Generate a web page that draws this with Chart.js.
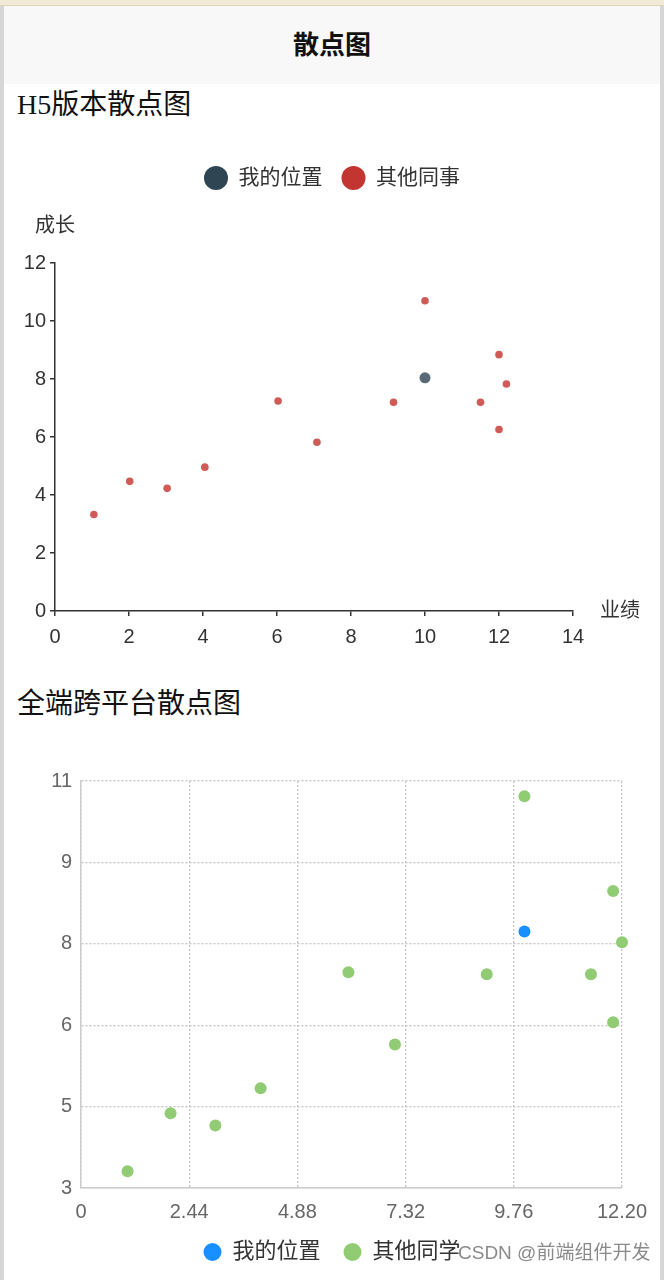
<!DOCTYPE html>
<html>
<meta charset="UTF-8">
<title>散点图</title>
<style type="text/css">
	html,
	body {
		margin: 0px;
		width: 664px;
		height: 1280px;
		background: #ffffff;
		overflow: hidden;
	}

	.page {
		position: relative;
		width: 664px;
		height: 1280px;
		font-family: "Liberation Serif", "Noto Sans CJK SC", serif;
	}

	.topline {
		position: absolute;
		left: 0;
		top: 0;
		width: 664px;
		height: 5px;
		background: #f1ead6;
		border-bottom: 1px solid #ddd3b6;
	}

	.side {
		position: absolute;
		top: 6px;
		width: 4px;
		height: 1274px;
		background: #d6d6d6;
	}

	.header {
		position: absolute;
		left: 4px;
		right: 4px;
		top: 6px;
		height: 78px;
		line-height: 80px;
		background: #f8f8f8;
		text-align: center;
		font-size: 26px;
		font-weight: bold;
		color: #111;
	}

	.sec {
		position: absolute;
		left: 17px;
		height: 36px;
		line-height: 36px;
		font-size: 28px;
		color: #111;
	}

	.box {
		position: absolute;
		left: 4px;
		width: 656px;
	}

	.mark {
		position: absolute;
		left: 458px;
		top: 1240px;
		font-family: "Liberation Sans", "Noto Sans CJK SC", sans-serif;
		font-size: 19px;
		line-height: 26px;
		color: #8a8a8a;
		text-shadow: 0 0 2px #fff, 0 0 2px #fff;
	}
</style>
<script src="https://cdn.jsdelivr.net/npm/chart.js"></script>

<body>
	<div class="page">
		<div class="topline"></div>
		<div class="side" style="left:0"></div>
		<div class="side" style="left:660px"></div>
		<div class="header">散点图</div>
		<div class="sec" style="top:87px">H5版本散点图</div>
		<div class="box" style="top:130px;height:530px"><canvas id="h5Chart"></canvas></div>
		<div class="sec" style="top:686px">全端跨平台散点图</div>
		<div class="box" style="top:740px;height:540px"><canvas id="allChart"></canvas></div>
		<div class="mark">CSDN @前端组件开发</div>
	</div>

	<script>
		// data (both charts show the same points)
		var meX = [10.0];
		var meY = [8.04];
		var othersX = [1.05, 2.02, 3.03, 4.05, 6.03, 7.08, 9.15, 10.0, 11.5, 12.0, 12.2, 12.0];
		var othersY = [3.33, 4.47, 4.23, 4.96, 7.24, 5.82, 7.20, 10.7, 7.20, 8.84, 7.83, 6.26];

		// chart 1 (H5)
		var h5Series = ['我的位置', '其他同事'];
		var h5XName = '业绩';
		var h5YName = '成长';
		var h5XTicks = [0, 2, 4, 6, 8, 10, 12, 14];
		var h5YTicks = [0, 2, 4, 6, 8, 10, 12];

		// chart 2 (all platforms)
		var allSeries = ['我的位置', '其他同学'];
		var allXTicks = [0, 2.44, 4.88, 7.32, 9.76, 12.2];
		var allXLabels = ['0', '2.44', '4.88', '7.32', '9.76', '12.20'];
		var allYTicks = [3, 4.6, 6.2, 7.8, 9.4, 11];
		var allYLabels = ['3', '5', '6', '8', '9', '11'];

		Chart.defaults.font.family = '"Liberation Sans", "Noto Sans CJK SC", sans-serif';
		Chart.defaults.animation = false;

		var nameFont = '20px ' + Chart.defaults.font.family;

		function toPoints(xs, ys) {
			return xs.map(function (x, i) { return { x: x, y: ys[i] }; });
		}

		function legendWithColors(colors) {
			return function (chart) {
				var items = Chart.defaults.plugins.legend.labels.generateLabels(chart);
				items.forEach(function (it, i) {
					it.fillStyle = colors[i];
					it.strokeStyle = colors[i];
					it.lineWidth = 0;
				});
				return items;
			};
		}

		// a band between legend and plot that holds the y axis name (over the axis)
		var yNameBand = {
			id: 'yNameBand',
			start: function (chart) {
				var band = {
					position: 'top',
					weight: 500,
					fullSize: true,
					options: {},
					left: 0, top: 0, right: 0, bottom: 0, width: 0, height: 0,
					isHorizontal: function () { return true; },
					update: function (maxWidth) { this.width = maxWidth; this.height = 64.5; },
					draw: function () {
						var ctx = chart.ctx;
						ctx.save();
						ctx.font = nameFont;
						ctx.fillStyle = '#333';
						ctx.textAlign = 'center';
						ctx.textBaseline = 'middle';
						ctx.fillText(h5YName, chart.chartArea.left, this.top + 27.5);
						ctx.restore();
					}
				};
				Chart.layouts.addBox(chart, band);
			}
		};

		// x axis name after the end of the axis
		var xNamePlugin = {
			id: 'xName',
			afterDraw: function (chart) {
				var ctx = chart.ctx;
				var x = chart.scales.x;
				ctx.save();
				ctx.font = nameFont;
				ctx.fillStyle = '#333';
				ctx.textBaseline = 'middle';
				ctx.textAlign = 'left';
				ctx.fillText(h5XName, x.right + 27, x.top);
				ctx.restore();
			}
		};

		var h5Axis = {
			grid: { display: true, drawOnChartArea: false, drawTicks: true, tickLength: 5, color: '#333', lineWidth: 1.5 },
			border: { display: true, color: '#333', width: 1.5 },
		};

		new Chart(document.getElementById('h5Chart'), {
			type: 'scatter',
			data: {
				datasets: [
					{
						label: h5Series[0],
						data: toPoints(meX, meY),
						backgroundColor: '#596a76',
						pointRadius: 5.5,
						pointBorderWidth: 0,
						clip: false
					},
					{
						label: h5Series[1],
						data: toPoints(othersX, othersY),
						backgroundColor: '#cf5b57',
						pointRadius: 3.8,
						pointBorderWidth: 0,
						clip: false
					}
				]
			},
			options: {
				responsive: true,
				maintainAspectRatio: false,
				layout: { padding: { top: 18.5, left: 0, right: 0, bottom: 9 } },
				plugins: {
					tooltip: { enabled: false },
					title: { display: false },
					legend: {
						position: 'top',
						labels: {
							usePointStyle: true,
							pointStyle: 'circle',
							boxHeight: 17,
							pointStyleWidth: 24,
							padding: 19,
							color: '#333',
							font: { size: 21 },
							generateLabels: legendWithColors(['#2f4554', '#c23531'])
						}
					}
				},
				scales: {
					x: Object.assign({
						type: 'linear',
						min: 0,
						max: 14,
						afterBuildTicks: function (s) { s.ticks = h5XTicks.map(function (v) { return { value: v }; }); },
						afterFit: function (s) { s.height = 40; s.paddingRight = 87; },
						ticks: { padding: 9, color: '#333', font: { size: 20 }, autoSkip: false, maxRotation: 0 }
					}, h5Axis),
					y: Object.assign({
						type: 'linear',
						min: 0,
						max: 12,
						afterBuildTicks: function (s) { s.ticks = h5YTicks.map(function (v) { return { value: v }; }); },
						afterFit: function (s) { s.width = 51; },
						ticks: { padding: 4, color: '#333', font: { size: 20 }, autoSkip: false }
					}, h5Axis)
				}
			},
			plugins: [yNameBand, xNamePlugin]
		});

		var allGrid = { display: true, drawTicks: false, color: '#c4c4c4', lineWidth: 1.3 };
		var allBorder = { display: true, color: '#cccccc', width: 1.5, dash: [2, 2] };

		new Chart(document.getElementById('allChart'), {
			type: 'scatter',
			data: {
				datasets: [
					{
						label: allSeries[0],
						data: toPoints(meX, meY),
						backgroundColor: '#1890FF',
						pointRadius: 6,
						pointBorderWidth: 0,
						clip: false
					},
					{
						label: allSeries[1],
						data: toPoints(othersX, othersY),
						backgroundColor: '#91CB74',
						pointRadius: 6,
						pointBorderWidth: 0,
						clip: false
					}
				]
			},
			options: {
				responsive: true,
				maintainAspectRatio: false,
				layout: { padding: { top: 41, left: 0, right: 0, bottom: 7 } },
				plugins: {
					tooltip: { enabled: false },
					title: { display: false },
					legend: {
						position: 'bottom',
						labels: {
							usePointStyle: true,
							pointStyle: 'circle',
							boxHeight: 12.73,
							pointStyleWidth: 18,
							padding: 23,
							color: '#333',
							font: { size: 22 }
						}
					}
				},
				scales: {
					x: {
						type: 'linear',
						min: 0,
						max: 12.2,
						grid: allGrid,
						border: allBorder,
						afterBuildTicks: function (s) { s.ticks = allXTicks.map(function (v) { return { value: v }; }); },
						afterFit: function (s) { s.height = 30; s.paddingRight = 38; },
						ticks: {
							padding: 12, color: '#666', font: { size: 20 }, autoSkip: false, maxRotation: 0,
							callback: function (v, i) { return allXLabels[i]; }
						}
					},
					y: {
						type: 'linear',
						min: 3,
						max: 11,
						grid: allGrid,
						border: allBorder,
						afterBuildTicks: function (s) { s.ticks = allYTicks.map(function (v) { return { value: v }; }); },
						afterFit: function (s) { s.width = 77; },
						ticks: {
							padding: 9, color: '#666', font: { size: 20 }, autoSkip: false,
							callback: function (v, i) { return allYLabels[i]; }
						}
					}
				}
			}
		});
	</script>
</body>

</html>
